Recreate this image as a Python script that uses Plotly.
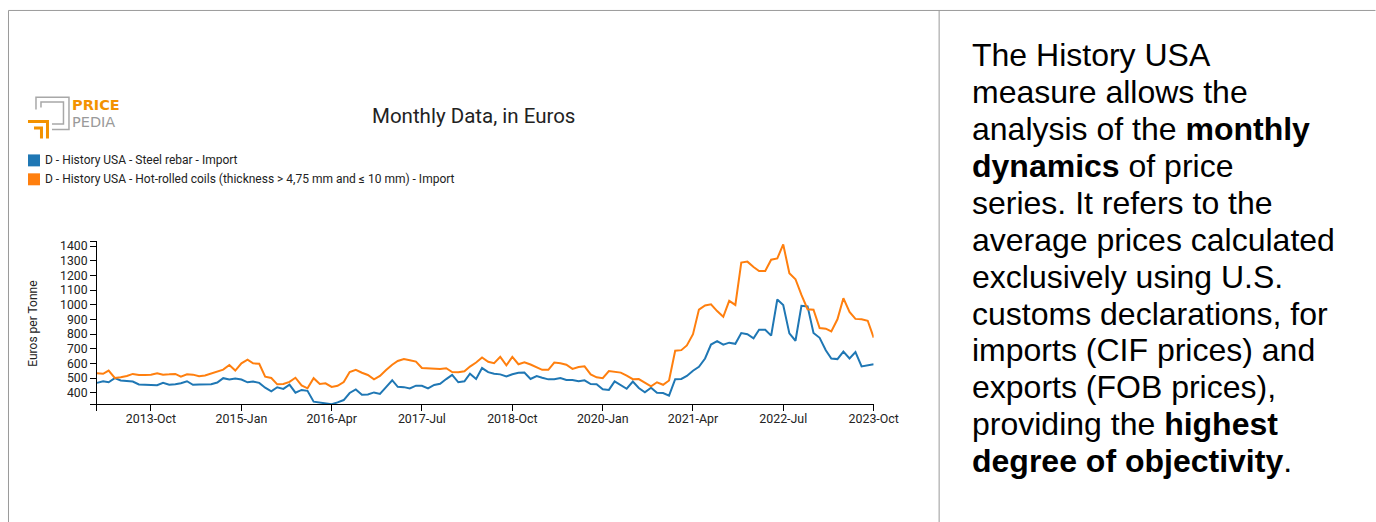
import plotly.graph_objects as go
import pandas as pd

# The photographed picture comes out squeezed horizontally by about S,
# so reference x pixels are divided by S. Body margin is removed by post_script.
S = 0.9825
W, H = 1398, 522
OFF = 0

# ---------------- data ----------------
months = pd.date_range("2013-01-01", periods=130, freq="MS")

rebar_import = [
    468, 479, 472, 500, 484, 479, 477, 457, 455, 457, 452, 468,   # 2013
    455, 459, 466, 479, 455, 457, 459, 459, 470, 500, 491, 498,   # 2014
    491, 472, 477, 468, 435, 410, 438, 427, 456, 401, 420, 414,   # 2015
    340, 333, 330, 322, 335, 351, 399, 423, 387, 389, 403, 393,   # 2016
    439, 486, 441, 439, 430, 449, 448, 430, 454, 462, 494, 522,   # 2017
    472, 479, 531, 495, 569, 541, 530, 526, 512, 527, 537, 539,   # 2018
    495, 515, 503, 492, 492, 501, 488, 488, 479, 485, 460, 458,   # 2019
    424, 420, 478, 450, 428, 477, 433, 404, 435, 400, 399, 381,   # 2020
    493, 495, 515, 551, 577, 634, 729, 752, 728, 742, 734, 807,   # 2021
    800, 772, 830, 830, 790, 1036, 999, 805, 755, 993, 989, 808,  # 2022
    775, 690, 634, 630, 681, 634, 678, 580, 590, 595,             # 2023
]

hrc_import = [
    533, 530, 552, 502, 506, 515, 529, 522, 522, 524, 533, 524,   # 2013
    526, 529, 511, 527, 524, 513, 518, 533, 545, 558, 590, 552,   # 2014
    601, 626, 601, 598, 510, 501, 458, 460, 475, 503, 451, 431,   # 2015
    500, 461, 465, 440, 448, 474, 542, 557, 537, 522, 492, 515,   # 2016
    555, 592, 617, 630, 622, 613, 570, 566, 566, 563, 568, 542,   # 2017
    541, 547, 579, 607, 641, 612, 602, 645, 588, 645, 595, 608,   # 2018
    593, 574, 557, 557, 606, 602, 592, 563, 576, 581, 526, 506,   # 2019
    500, 548, 545, 538, 517, 493, 494, 466, 444, 472, 455, 484,   # 2020
    687, 691, 723, 800, 967, 995, 1003, 957, 918, 1027, 999, 1288,  # 2021
    1294, 1257, 1230, 1230, 1307, 1316, 1411, 1215, 1174, 1067, 970, 967,  # 2022
    842, 837, 818, 901, 1045, 951, 904, 901, 891, 776,            # 2023
]

series_names = [
    "D - History USA - Steel rebar - Import",
    "D - History USA - Hot-rolled coils (thickness > 4,75 mm and \u2264 10 mm) - Import",
]
series_values = [rebar_import, hrc_import]
series_colors = ["#1f77b4", "#ff7f0e"]

xtick_vals = ["2013-10-01", "2015-01-01", "2016-04-01", "2017-07-01", "2018-10-01",
              "2020-01-01", "2021-04-01", "2022-07-01", "2023-10-01"]
xtick_text = ["2013-Oct", "2015-Jan", "2016-Apr", "2017-Jul", "2018-Oct",
              "2020-Jan", "2021-Apr", "2022-Jul", "2023-Oct"]
ytick_vals = [400, 500, 600, 700, 800, 900, 1000, 1100, 1200, 1300, 1400]

y_min, y_max = 321, 1434

side_lines = [
    "The History USA",
    "measure allows the",
    "analysis of the <b>monthly</b>",
    "<b>dynamics</b> of price",
    "series. It refers to the",
    "average prices calculated",
    "exclusively using U.S.",
    "customs declarations, for",
    "imports (CIF prices) and",
    "exports (FOB prices),",
    "providing the <b>highest</b>",
    "<b>degree of objectivity</b>.",
]


def px(x):
    """reference-picture x pixel -> paper fraction"""
    return (x / S - OFF) / W


def py(y):
    """reference-picture y pixel -> paper fraction"""
    return 1 - (y - OFF) / H


FONT = "Roboto, 'Open Sans', sans-serif"

fig = go.Figure()
for name, vals, col in zip(series_names, series_values, series_colors):
    fig.add_trace(go.Scatter(x=months, y=vals, mode="lines", name=name,
                             line=dict(color=col, width=2), showlegend=False))

shapes = []
annotations = []

# frame
frame = dict(type="path", xref="paper", yref="paper",
             line=dict(color="#9a9a9a", width=1))
shapes.append(dict(frame, path=f"M {px(8.5)},{py(523)} L {px(8.5)},{py(8.5)} L {px(1376)},{py(8.5)}"))
shapes.append(dict(frame, path=f"M {px(939.5)},{py(8.5)} L {px(939.5)},{py(523)}"))

# logo
gray = "#a8a8a8"
orange = "#f39200"


def pth(pts, color, width):
    d = "M " + " L ".join(f"{px(a)},{py(b)}" for a, b in pts)
    return dict(type="path", xref="paper", yref="paper", path=d,
                line=dict(color=color, width=width))


shapes.append(pth([(36, 108), (36, 95.5), (69, 95.5), (69, 128), (52, 128)], gray, 1.5))
shapes.append(pth([(41, 106), (41, 100.5), (63.5, 100.5), (63.5, 122.5), (52, 122.5)], gray, 1.5))
shapes.append(pth([(28, 120), (47.5, 120), (47.5, 137)], orange, 3))
shapes.append(pth([(34, 126.5), (41.5, 126.5), (41.5, 137)], orange, 3))
annotations.append(dict(x=px(70), y=py(103.5), xref="paper", yref="paper", xanchor="left",
                        yanchor="middle", showarrow=False, text="<b>PRICE</b>",
                        font=dict(family="'DejaVu Sans', sans-serif", size=14.5, color=orange)))
annotations.append(dict(x=px(70), y=py(120.5), xref="paper", yref="paper", xanchor="left",
                        yanchor="middle", showarrow=False, text="PEDIA",
                        font=dict(family="'DejaVu Sans', sans-serif", size=14.5, color="#9a9a9a")))

# title
annotations.append(dict(x=px(473.5), y=py(114), xref="paper", yref="paper", xanchor="center",
                        yanchor="middle", showarrow=False, text="Monthly Data, in Euros",
                        font=dict(family=FONT, size=20.5, color="#222")))

# legend
for k, (name, col) in enumerate(zip(series_names, series_colors)):
    yc = 159 + 19 * k
    shapes.append(dict(type="rect", xref="paper", yref="paper",
                       x0=px(28), x1=px(40), y0=py(yc - 6), y1=py(yc + 6),
                       fillcolor=col, line=dict(width=0)))
    annotations.append(dict(x=px(43.5), y=py(yc), xref="paper", yref="paper", xanchor="left",
                            yanchor="middle", showarrow=False, text=name,
                            font=dict(family=FONT, size=12, color="#222")))

# y axis title
annotations.append(dict(x=px(33), y=py(323), xref="paper", yref="paper", xanchor="center",
                        yanchor="middle", showarrow=False, text="Euros per Tonne", textangle=-90,
                        font=dict(family=FONT, size=12, color="#222")))

# side text
for k, line in enumerate(side_lines):
    base = 64.5 + 37.03 * k
    annotations.append(dict(x=px(970.5), y=py(base - 11), xref="paper", yref="paper",
                            xanchor="left", yanchor="middle", showarrow=False, text=line,
                            font=dict(family="'Liberation Sans', Arial, Helvetica, sans-serif",
                                      size=32, color="#000")))

fig.update_layout(
    width=W, height=H,
    margin=dict(l=0, r=0, t=0, b=0, pad=0),
    paper_bgcolor="white", plot_bgcolor="white",
    shapes=shapes, annotations=annotations,
    xaxis=dict(domain=[px(97), px(874)], type="date",
               range=["2013-01-01", "2023-10-01"],
               tickvals=["2013-01-01"] + xtick_vals, ticktext=[""] + xtick_text,
               showline=True, linecolor="#000", linewidth=1, ticks="outside",
               ticklen=6, tickcolor="#000", showgrid=False, zeroline=False,
               ticklabelstandoff=-3,
               tickfont=dict(family=FONT, size=12.4, color="#222")),
    yaxis=dict(domain=[py(404), py(240)], range=[y_min, y_max],
               tickvals=[y_min] + ytick_vals + [y_max],
               ticktext=[""] + [str(v) for v in ytick_vals] + [""],
               showline=True, linecolor="#000", linewidth=1, ticks="outside",
               ticklen=6, tickcolor="#000", showgrid=False, zeroline=False,
               tickfont=dict(family=FONT, size=12.2, color="#222")),
)

fig.write_html("out.html", config={"displayModeBar": False},
               post_script="document.body.style.margin='0';")
